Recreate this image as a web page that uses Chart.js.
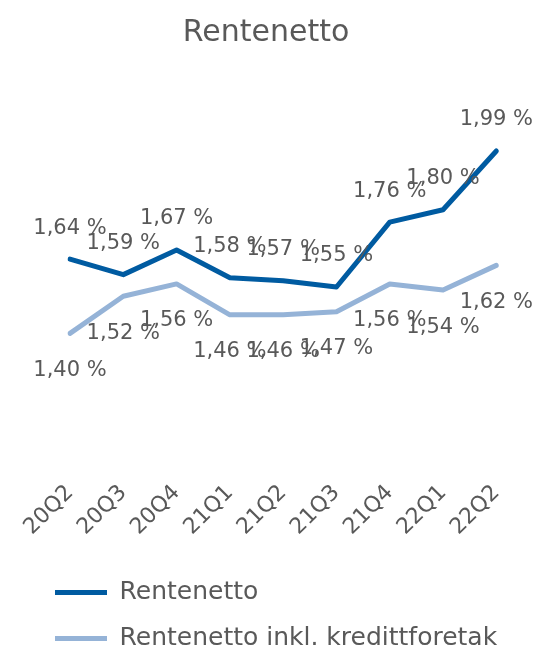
<!DOCTYPE html>
<html>
<head>
<meta charset="utf-8">
<script src="https://cdn.jsdelivr.net/npm/chart.js@4.4.1/dist/chart.umd.min.js"></script>
<style>
  html, body { margin: 0; padding: 0; overflow: hidden; background: #fff; }
  #wrap { width: 538px; height: 661px; }
</style>
</head>
<body>
<div id="wrap"><canvas id="chart"></canvas></div>
<script>
const quarters = ['20Q2', '20Q3', '20Q4', '21Q1', '21Q2', '21Q3', '21Q4', '22Q1', '22Q2'];
const rentenetto = [1.64, 1.59, 1.67, 1.58, 1.57, 1.55, 1.76, 1.80, 1.99];
const rentenettoInkl = [1.40, 1.52, 1.56, 1.46, 1.46, 1.47, 1.56, 1.54, 1.62];

const grey = '#595959';
Chart.defaults.font.family = '"DejaVu Sans", sans-serif';
Chart.defaults.color = grey;

// draws the value labels: above the dark line, below the light one
const valueLabels = {
  id: 'valueLabels',
  afterDatasetsDraw(chart) {
    const ctx = chart.ctx;
    ctx.save();
    ctx.font = '21px "DejaVu Sans", sans-serif';
    ctx.fillStyle = grey;
    ctx.textAlign = 'center';
    ctx.textBaseline = 'middle';
    chart.data.datasets.forEach((ds, i) => {
      const meta = chart.getDatasetMeta(i);
      const dy = i === 0 ? -31 : 37;
      meta.data.forEach((pt, j) => {
        const txt = ds.data[j].toFixed(2).replace('.', ',') + ' %';
        ctx.fillText(txt, pt.x, pt.y + dy);
      });
    });
    ctx.restore();
  }
};

new Chart(document.getElementById('chart'), {
  type: 'line',
  data: {
    labels: quarters,
    datasets: [
      { label: 'Rentenetto', data: rentenetto, borderColor: '#005BA1', backgroundColor: '#005BA1',
        borderWidth: 5, pointRadius: 0, borderCapStyle: 'round', borderJoinStyle: 'round', tension: 0 },
      { label: 'Rentenetto inkl. kredittforetak', data: rentenettoInkl, borderColor: '#95B3D7', backgroundColor: '#95B3D7',
        borderWidth: 5, pointRadius: 0, borderCapStyle: 'round', borderJoinStyle: 'round', tension: 0 }
    ]
  },
  options: {
    responsive: true,
    maintainAspectRatio: false,
    animation: false,
    layout: { padding: { left: 34, right: 40, top: 0, bottom: 0 } },
    plugins: {
      title: {
        display: true,
        text: 'Rentenetto',
        color: grey,
        font: { size: 30, weight: 'normal' },
        padding: { top: 15, bottom: 66 }
      },
      legend: {
        position: 'bottom',
        align: 'start',
        labels: {
          usePointStyle: true,
          pointStyle: 'line',
          pointStyleWidth: 52,
          color: grey,
          font: { size: 25 },
          padding: 21
        }
      },
      tooltip: { enabled: false }
    },
    scales: {
      x: {
        grid: { display: false, drawTicks: false },
        border: { display: false },
        ticks: { color: grey, font: { size: 22 }, minRotation: 45, maxRotation: 45, padding: 23 },
        afterFit(scale) { scale.height = 102; }
      },
      y: {
        min: 1.0,
        max: 2.1,
        grid: { display: false },
        border: { display: false },
        ticks: { display: false },
        afterFit(scale) { scale.width = 36; }
      }
    }
  },
  plugins: [valueLabels]
});
</script>
</body>
</html>
